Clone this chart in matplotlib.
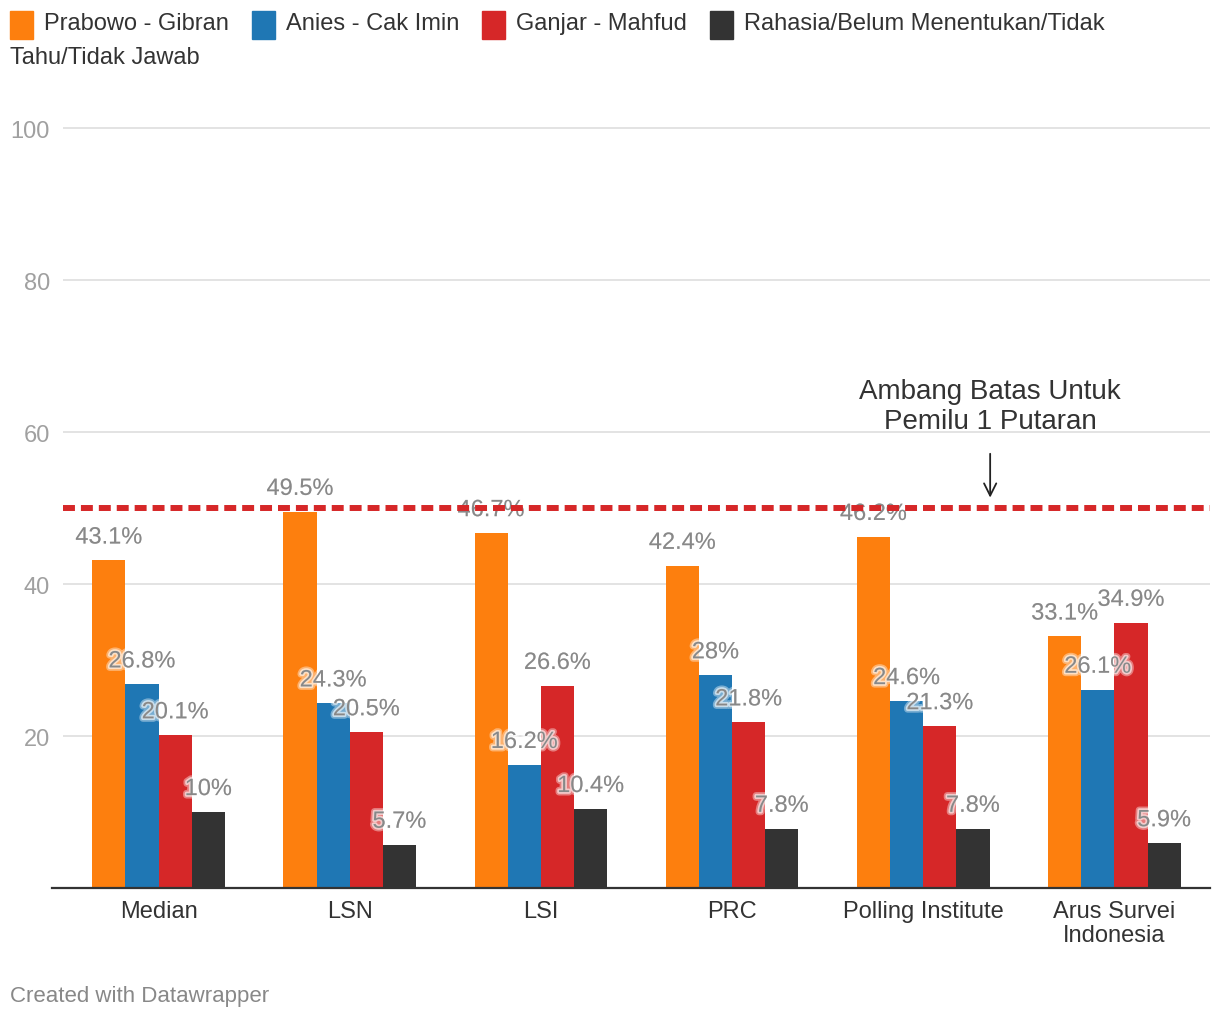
import numpy as np
import matplotlib
matplotlib.use('Agg')
import matplotlib.pyplot as plt
import matplotlib.patheffects as pe
from matplotlib.patches import Rectangle

plt.rcParams['font.family'] = ['Liberation Sans', 'DejaVu Sans']

# data
pollsters = ['Median', 'LSN', 'LSI', 'PRC', 'Polling Institute', 'Arus Survei\nIndonesia']
series = ['Prabowo - Gibran', 'Anies - Cak Imin', 'Ganjar - Mahfud',
          'Rahasia/Belum Menentukan/Tidak Tahu/Tidak Jawab']
prabowo = [43.1, 49.5, 46.7, 42.4, 46.2, 33.1]
anies = [26.8, 24.3, 16.2, 28, 24.6, 26.1]
ganjar = [20.1, 20.5, 26.6, 21.8, 21.3, 34.9]
rahasia = [10, 5.7, 10.4, 7.8, 7.8, 5.9]
threshold = 50
yticks = [20, 40, 60, 80, 100]

colors = ['#fd7f0e', '#1f77b4', '#d62728', '#333333']
values = [prabowo, anies, ganjar, rahasia]

W, H = 1220, 1020
fig = plt.figure(figsize=(W / 100, H / 100), dpi=100)
# axes: x from 63 to 1210 px, y=0 at 889 px, 7.6 px per unit
ax = fig.add_axes([63 / W, 1 - 889 / H, 1147 / W, 7.6 * 101 / H])
ax.set_ylim(0, 101)
ax.set_xlim(-0.5, 5.5)

x = np.arange(len(pollsters))
bw = 0.1735
halo = [pe.withStroke(linewidth=5, foreground='white', alpha=0.4),
        pe.withStroke(linewidth=2.5, foreground='white', alpha=0.6)]
for i, (vals, c) in enumerate(zip(values, colors)):
    xs = x + (i - 1.5) * bw
    ax.bar(xs, vals, width=bw, color=c, zorder=2)
    for xi, v in zip(xs, vals):
        ax.annotate(f'{v:g}%', (xi, v), xytext=(0, 16.5), textcoords='offset points',
                    ha='center', va='center', fontsize=17, color='#888888',
                    path_effects=halo, zorder=3)

for t in yticks:
    ax.axhline(t, color='#e3e3e3', lw=1.4, zorder=0)
ax.axhline(0, xmin=-11 / 1147, xmax=1, color='#333333', lw=1.6, clip_on=False, zorder=4)
ax.axhline(threshold, color='#d62728', lw=4.3, linestyle=(0, (2, 1)), zorder=5)

ax.annotate('', xy=(4.35, threshold + 1.0), xytext=(4.35, 57.5),
            arrowprops=dict(arrowstyle='->', color='#222222', lw=1.3,
                            mutation_scale=22), zorder=6)
ax.text(4.35, 59.8, 'Ambang Batas Untuk\nPemilu 1 Putaran', ha='center', va='bottom',
        fontsize=20, color='#333333', linespacing=1.2)

for s in ax.spines.values():
    s.set_visible(False)
ax.set_yticks(yticks)
ax.set_yticklabels([str(t) for t in yticks], fontsize=17, color='#a0a0a0')
ax.tick_params(axis='y', length=0, pad=9.5)
ax.set_xticks(x)
ax.set_xticklabels(pollsters, fontsize=17, color='#333333', linespacing=1.1)
ax.tick_params(axis='x', length=0, pad=8.5)

# legend
legend_items = [(10, 44, series[0]), (252, 286, series[1]), (482, 516, series[2]),
                (710, 744, 'Rahasia/Belum Menentukan/Tidak')]
for (sx, tx, label), c in zip(legend_items, colors):
    fig.patches.append(Rectangle((sx / W, 1 - 40 / H), 23 / W, 28 / H, color=c,
                                 transform=fig.transFigure, figure=fig))
    fig.text(tx / W, 1 - 24 / H, label, fontsize=17, color='#333333', va='center')
fig.text(10 / W, 1 - 58 / H, 'Tahu/Tidak Jawab', fontsize=17, color='#333333', va='center')

fig.text(10 / W, 1 - 997 / H, 'Created with Datawrapper', fontsize=16, color='#888888',
         va='center')

fig.savefig('out.png', dpi=100, facecolor='white')
